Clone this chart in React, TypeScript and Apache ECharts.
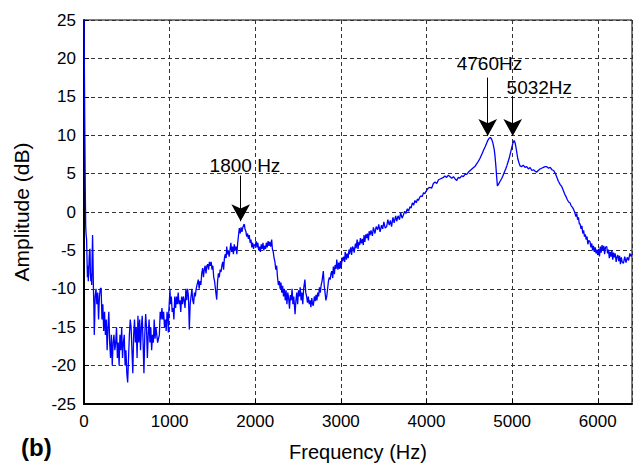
import React, { useEffect, useRef } from "react";
import * as echarts from "echarts";

// Spectrum: [frequency (Hz), amplitude (dB)]
const spectrum: [number, number][] = [
  [0, 25], [5, 18], [10, 10], [15, 3], [20, -2], [25, -3], [30, -3.5], [35, -6], [40, -8.5], [45, -7],
  [50, -9], [55, -8], [60, -6], [65, -5], [70, -4.8], [75, -8], [80, -9], [85, -8], [90, -9.5], [95, -6],
  [100, -3], [105, -6], [110, -10], [115, -12], [120, -16], [125, -14], [130, -11], [140, -10], [150, -12], [160, -10.5],
  [170, -14], [180, -11], [190, -10], [200, -9.9], [210, -14], [220, -12], [230, -15.5], [240, -13], [250, -16], [260, -14],
  [270, -18], [280, -15], [290, -13], [300, -17], [310, -19], [320, -16], [330, -20], [340, -17], [350, -16], [360, -18],
  [370, -17], [380, -15], [390, -19], [400, -17], [410, -20], [420, -16], [430, -18], [440, -15], [450, -19], [460, -17],
  [470, -16], [480, -20], [490, -18], [500, -21], [510, -22.2], [520, -19], [530, -16], [540, -14], [550, -15], [560, -18],
  [570, -21], [580, -16], [590, -14], [600, -17], [610, -15], [620, -19], [630, -13.5], [640, -17], [650, -14], [660, -18],
  [670, -15], [680, -13.5], [690, -17], [700, -21], [710, -16], [720, -13.3], [730, -15], [740, -19], [750, -16], [760, -14],
  [770, -17], [780, -15], [790, -18], [800, -16], [810, -17], [820, -14], [830, -16.5], [840, -15], [860, -17], [880, -16],
  [890, -13], [900, -14], [910, -12.5], [920, -14], [930, -13], [940, -15], [950, -14], [960, -15.5], [970, -13], [980, -14],
  [985, -15.7], [990, -13], [1000, -11], [1004, -10], [1010, -12], [1020, -11], [1030, -13], [1040, -12.5], [1050, -14], [1060, -11],
  [1070, -12.5], [1080, -11], [1090, -12], [1100, -10.5], [1110, -12], [1120, -11.5], [1130, -13], [1140, -11], [1150, -12], [1160, -11],
  [1170, -11.5], [1180, -12.5], [1190, -10], [1200, -11.5], [1210, -10], [1220, -11], [1230, -15.3], [1240, -12], [1250, -11], [1260, -10],
  [1270, -11.5], [1280, -12], [1290, -10.5], [1300, -11], [1310, -10], [1320, -9.5], [1335, -8.8], [1345, -10], [1355, -9], [1365, -9.5],
  [1375, -8], [1386, -7.3], [1395, -8.5], [1405, -7.5], [1415, -7], [1425, -8], [1435, -7], [1445, -6.8], [1455, -7.5], [1465, -6.5],
  [1475, -7], [1485, -6.5], [1495, -7.5], [1505, -7], [1515, -8.5], [1525, -9], [1535, -10], [1550, -11.4], [1560, -9], [1570, -8],
  [1580, -8.5], [1590, -7.5], [1600, -7.8], [1610, -7], [1620, -6.5], [1630, -7.5], [1640, -6], [1650, -5.5], [1660, -6], [1667, -4.5],
  [1675, -5.5], [1685, -5], [1695, -5.8], [1705, -5], [1715, -4], [1725, -5.2], [1735, -4.5], [1745, -5.5], [1755, -4.2], [1765, -5],
  [1775, -4.5], [1785, -5.5], [1795, -4], [1805, -3], [1814, -2.1], [1825, -2.8], [1835, -2], [1845, -2.6], [1855, -2], [1865, -1.7],
  [1873, -1.6], [1880, -2.2], [1890, -2.5], [1900, -3.2], [1910, -2.8], [1920, -3.5], [1930, -3], [1940, -4], [1950, -3.6], [1960, -4.6],
  [1970, -4], [1980, -4.8], [1990, -4.2], [2000, -4.4], [2010, -3.8], [2020, -4.6], [2030, -4], [2040, -5], [2050, -4.5], [2060, -5.2],
  [2070, -4.2], [2080, -4.8], [2090, -4], [2100, -5], [2110, -4.4], [2120, -4.8], [2130, -4], [2140, -4.6], [2150, -3.8], [2160, -4.4],
  [2170, -3.9], [2180, -4.5], [2192, -3.6], [2200, -4.8], [2210, -5.2], [2220, -6], [2230, -6.5], [2240, -7.5], [2250, -7], [2260, -8.5],
  [2270, -9.5], [2282, -9], [2290, -10], [2300, -9.2], [2310, -10.5], [2320, -9.6], [2330, -11], [2340, -10], [2350, -11.5], [2360, -10.2],
  [2370, -12], [2380, -10.5], [2390, -11.2], [2400, -12.6], [2410, -10.8], [2420, -11.5], [2430, -10], [2440, -12], [2450, -11], [2465, -13.3],
  [2475, -11.5], [2485, -10.5], [2495, -12], [2505, -10.2], [2515, -11], [2525, -9.8], [2535, -11.5], [2545, -10.5], [2555, -12], [2565, -10],
  [2580, -8.8], [2590, -10.5], [2600, -11], [2610, -11.8], [2620, -11], [2630, -12], [2640, -11.5], [2650, -12.4], [2660, -11.2], [2670, -12],
  [2678, -12.2], [2690, -11], [2700, -11.6], [2710, -10.8], [2720, -11.5], [2730, -10.5], [2740, -11], [2750, -9.8], [2760, -10.5], [2770, -9.5],
  [2780, -9], [2795, -7.7], [2805, -9.5], [2815, -10.5], [2825, -11.5], [2835, -11], [2845, -10], [2855, -9], [2865, -8.5], [2875, -8.8],
  [2885, -8], [2893, -7.7], [2905, -8.6], [2912, -7.1], [2925, -8.1], [2932, -6.9], [2945, -7.4], [2952, -6.2], [2965, -7.5], [2975, -6.6],
  [2985, -7.4], [2995, -6.4], [3003, -7.3], [3015, -5.9], [3022, -6.4], [3035, -5.8], [3045, -6.5], [3050, -5.2], [3065, -6.2], [3072, -5.4],
  [3085, -6], [3095, -4.9], [3100, -5.5], [3115, -4.6], [3125, -5.6], [3135, -4.5], [3146, -4.7], [3155, -5.3], [3170, -4.1], [3178, -4.7],
  [3190, -3.6], [3200, -4.8], [3212, -3.9], [3220, -4.3], [3228, -3.4], [3240, -4.1], [3250, -3.5], [3262, -4.3], [3270, -3.0], [3280, -3.9],
  [3292, -2.9], [3300, -3.4], [3310, -2.8], [3322, -3.7], [3330, -2.5], [3340, -3], [3352, -2.4], [3368, -3.1], [3380, -2.0], [3398, -2.8],
  [3412, -1.9], [3430, -2.3], [3442, -1.6], [3458, -2.6], [3475, -1.7], [3488, -2.2], [3502, -1.3], [3518, -2.1], [3535, -1.9], [3548, -1.0],
  [3565, -1.7], [3578, -1.1], [3592, -1.9], [3608, -0.7], [3622, -1.4], [3640, -0.5], [3652, -1.2], [3668, -0.5], [3685, -1.0], [3698, -0.1],
  [3715, -0.8], [3730, -0.4], [3745, 0.1], [3760, -0.2], [3775, 0.4], [3790, 0.1], [3807, 0.7], [3820, 0.5], [3835, 1.2], [3850, 0.9],
  [3865, 1.5], [3880, 1.2], [3895, 1.7], [3905, 1.5], [3920, 1.9], [3935, 2.1], [3950, 2.0], [3965, 2.5], [3980, 2.4], [4000, 2.8],
  [4020, 3.1], [4040, 3.2], [4060, 3.1], [4080, 3.7], [4100, 3.9], [4120, 3.7], [4140, 4.2], [4160, 4.3], [4180, 4.4], [4197, 4.5],
  [4215, 4.7], [4235, 4.5], [4255, 4.8], [4275, 4.6], [4295, 4.4], [4315, 4.6], [4335, 4.3], [4353, 4.1], [4370, 4.5], [4390, 4.4],
  [4410, 4.7], [4430, 4.6], [4450, 4.9], [4470, 4.9], [4490, 5.2], [4510, 5.4], [4530, 5.6], [4550, 5.8], [4570, 6.0], [4587, 6.3],
  [4605, 6.6], [4625, 7.0], [4645, 7.5], [4665, 8.0], [4685, 8.5], [4700, 8.9], [4715, 9.3], [4731, 9.6], [4745, 9.7], [4760, 9.5],
  [4775, 9.0], [4790, 8.2], [4800, 7.3], [4810, 6.0], [4820, 4.5], [4828, 3.4], [4840, 3.6], [4855, 3.9], [4870, 4.2], [4880, 4.4],
  [4895, 4.8], [4910, 5.2], [4925, 5.6], [4938, 6.0], [4955, 6.6], [4970, 7.2], [4985, 7.9], [4996, 8.4], [5010, 9.0], [5023, 9.3],
  [5035, 9.0], [5045, 8.4], [5054, 7.8], [5065, 7.0], [5080, 6.4], [5093, 6.0], [5110, 5.9], [5130, 6.1], [5150, 5.8], [5171, 5.9],
  [5190, 5.6], [5210, 5.8], [5230, 5.4], [5250, 5.5], [5270, 5.3], [5288, 5.2], [5305, 5.4], [5325, 5.6], [5345, 5.7], [5365, 5.8],
  [5385, 5.9], [5405, 5.9], [5425, 5.7], [5445, 5.8], [5465, 5.5], [5485, 5.4], [5501, 5.1], [5520, 4.6], [5540, 4.0], [5560, 3.6],
  [5580, 3.3], [5598, 2.8], [5615, 2.3], [5630, 2.0], [5645, 1.6], [5660, 1.3], [5675, 1.2], [5690, 0.8], [5705, 0.6], [5715, 0.4],
  [5730, 0.0], [5745, -0.6], [5755, -0.2], [5765, -1.0], [5775, -0.7], [5785, -1.6], [5793, -1.5], [5805, -2.2], [5815, -1.8], [5825, -2.8],
  [5835, -2.4], [5845, -3.2], [5855, -2.9], [5865, -3.6], [5875, -3.2], [5885, -4.2], [5895, -3.7], [5910, -3.9], [5920, -4.6], [5930, -4.1],
  [5940, -5.0], [5950, -4.4], [5960, -5.2], [5970, -4.6], [5980, -5.4], [5988, -4.9], [6000, -5.6], [6010, -4.8], [6020, -5.8], [6030, -4.5],
  [6040, -5.3], [6050, -4.3], [6060, -5.0], [6070, -4.4], [6080, -5.5], [6090, -4.6], [6105, -4.5], [6115, -5.4], [6125, -4.9], [6135, -6.0],
  [6145, -5.2], [6155, -5.8], [6165, -5.0], [6175, -6.2], [6185, -5.3], [6195, -5.9], [6205, -5.4], [6215, -6.5], [6222, -6.0], [6235, -5.6],
  [6245, -6.4], [6255, -5.7], [6265, -6.8], [6275, -5.9], [6285, -6.5], [6300, -6.7], [6315, -5.8], [6330, -6.6], [6345, -5.9], [6360, -6.3],
  [6375, -5.4], [6390, -5.8], [6400, -5.5],
];

// Annotation arrows: [x (Hz), start dB, tip dB]
const arrows: [number, number, number][] = [
  [1830, 4.75, -1.2],
  [4715, 17.5, 9.9],
  [5007, 15.1, 9.9],
];
// Annotation labels: [text, x (Hz), y (dB)]
const annotations: [string, number, number][] = [
  ["1800 Hz", 1880, 6.05],
  ["4760Hz", 4735, 19.4],
  ["5032Hz", 5318, 16.2],
];

const xTicks = { min: 0, max: 6400, interval: 1000 };
const yTicks = { min: -25, max: 25, interval: 5 };

const FONT = "'Liberation Sans', Arial, Helvetica, sans-serif";

export default function App() {
  const ref = useRef<HTMLDivElement>(null);
  useEffect(() => {
    if (!ref.current) return;
    const chart = echarts.init(ref.current, undefined, { renderer: "svg" });
    chart.setOption({
      animation: false,
      backgroundColor: "#fff",
      grid: {
        left: 84, right: 1, top: 20, bottom: 60,
        show: true, borderColor: "#000", borderWidth: 1, backgroundColor: "transparent",
      },
      xAxis: {
        type: "value",
        min: xTicks.min, max: xTicks.max, interval: xTicks.interval,
        name: "Frequency (Hz)", nameLocation: "middle", nameGap: 38,
        nameTextStyle: { fontFamily: FONT, fontSize: 20, color: "#000" },
        axisLine: { show: true, onZero: false, lineStyle: { color: "#000", width: 2 } },
        axisTick: { show: true, inside: true, length: 5, lineStyle: { color: "#000" } },
        axisLabel: {
          fontFamily: FONT, fontSize: 17, color: "#000", margin: 9, showMaxLabel: false,
          formatter: (v: number) => String(v),
        },
        splitLine: { show: true, lineStyle: { color: "#333", type: [4, 3], width: 1 } },
      },
      yAxis: {
        type: "value",
        min: yTicks.min, max: yTicks.max, interval: yTicks.interval,
        name: "Amplitude (dB)", nameLocation: "middle", nameGap: 52,
        nameTextStyle: { fontFamily: FONT, fontSize: 21, color: "#000" },
        axisLine: { show: true, onZero: false, lineStyle: { color: "#000", width: 2 } },
        axisTick: { show: true, inside: true, length: 5, lineStyle: { color: "#000" } },
        axisLabel: { fontFamily: FONT, fontSize: 17, color: "#000", margin: 8, formatter: (v: number) => String(v) },
        splitLine: { show: true, lineStyle: { color: "#333", type: [4, 3], width: 1 } },
      },
      graphic: [
        {
          type: "text", left: 21, top: 435,
          style: { text: "(b)", fontFamily: FONT, fontSize: 24, fontWeight: "bold", fill: "#000" },
        },
      ],
      series: [
        {
          type: "line",
          data: spectrum,
          showSymbol: false,
          symbol: "none",
          lineStyle: { color: "#0000ff", width: 1.3 },
          clip: true,
          z: 3,
          markLine: {
            silent: true,
            symbol: ["none", "arrow"],
            symbolSize: [14, 17],
            label: { show: false },
            lineStyle: { color: "#000", width: 1, type: "solid" },
            itemStyle: { color: "#000" },
            data: arrows.map(([x, y0, y1]) => [{ coord: [x, y0] }, { coord: [x, y1] }]),
          },
          markPoint: {
            silent: true,
            symbol: "circle",
            symbolSize: 1,
            itemStyle: { color: "rgba(0,0,0,0)" },
            label: {
              show: true, position: "inside", color: "#000",
              fontFamily: FONT, fontSize: 19,
              formatter: (p: any) => p.name,
            },
            data: annotations.map(([t, x, y]) => ({ name: t, coord: [x, y] })),
          },
        },
      ],
    });
    return () => chart.dispose();
  }, []);
  return <div ref={ref} style={{ position: "fixed", left: 0, top: 0, width: 633, height: 467 }} />;
}
